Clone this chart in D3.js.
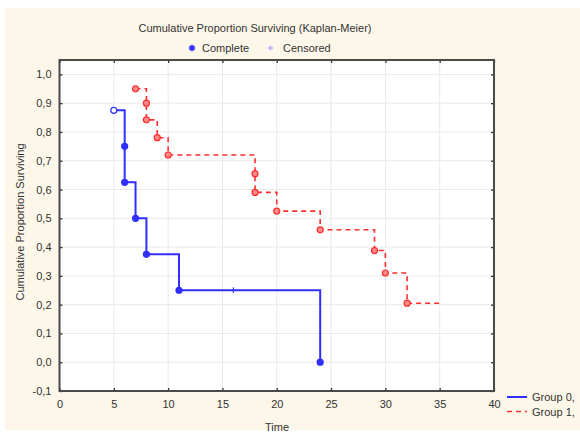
<!DOCTYPE html>
<html lang="en">
<head>
    <meta charset="UTF-8">
    <title>Cumulative Proportion Surviving (Kaplan-Meier)</title>
    <script src="https://cdnjs.cloudflare.com/ajax/libs/d3/7.8.5/d3.min.js"></script>
    <style>
        body {
            margin: 0;
            background: #ffffff;
        }

        svg {
            display: block;
            font-family: "Liberation Sans", Arial, sans-serif;
        }
    </style>
</head>
<body>
    <svg id="chart" width="580" height="432"></svg>

    <script>
        // values
        const groupZeroTimes = [5, 6, 6, 7, 8, 11, 24];
        const groupZeroSurvival = [0.875, 0.75, 0.625, 0.5, 0.375, 0.25, 0];
        const groupZeroCensored = [16];

        const groupOneTimes = [7, 8, 8, 9, 10, 18, 18, 20, 24, 29, 30, 32];
        const groupOneSurvival = [0.95, 0.9, 0.842, 0.78, 0.72, 0.655, 0.59, 0.525, 0.46, 0.388, 0.31, 0.205];
        const groupOneLastTime = 35;

        const xTickValues = [0, 5, 10, 15, 20, 25, 30, 35, 40];
        const yTickValues = [-0.1, 0, 0.1, 0.2, 0.3, 0.4, 0.5, 0.6, 0.7, 0.8, 0.9, 1.0];
        const groupNames = ["Group 0,", "Group 1,"];

        const svg = d3.select("#chart");
        const plotLeft = 59.5, plotRight = 494, plotTop = 60, plotBottom = 391;
        const textColor = "#333";
        const blue = "#2f2fff";
        const red = "#ff2e2e";

        const x = d3.scaleLinear().domain([0, 40]).range([plotLeft, plotRight]);
        const y = d3.scaleLinear().domain([-0.1, 1.05]).range([plotBottom, plotTop]);

        const locale = d3.formatLocale({
            decimal: ",", thousands: ".", grouping: [3], currency: ["", ""], minus: "-"
        });
        const yFormat = locale.format(".1f");

        // cream page background
        svg.append("rect")
            .attr("x", 5).attr("y", 8)
            .attr("width", 575).attr("height", 422)
            .attr("fill", "#fdf7e9");

        svg.append("rect")
            .attr("x", plotLeft).attr("y", plotTop)
            .attr("width", plotRight - plotLeft).attr("height", plotBottom - plotTop)
            .attr("fill", "#fff");

        // grid
        const grid = svg.append("g").attr("stroke", "#e9e9e9").attr("stroke-width", 1);
        grid.selectAll(".gx")
            .data(xTickValues.slice(1, -1))
            .join("line")
            .attr("class", "gx")
            .attr("x1", d => x(d)).attr("x2", d => x(d))
            .attr("y1", plotTop).attr("y2", plotBottom);
        grid.selectAll(".gy")
            .data(yTickValues.slice(1))
            .join("line")
            .attr("class", "gy")
            .attr("x1", plotLeft).attr("x2", plotRight)
            .attr("y1", d => y(d)).attr("y2", d => y(d));

        // step curves
        const stepLine = d3.line()
            .x(d => x(d[0]))
            .y(d => y(d[1]))
            .curve(d3.curveStepAfter);

        const zeroPoints = d3.zip(groupZeroTimes, groupZeroSurvival);
        const onePoints = d3.zip(groupOneTimes, groupOneSurvival);

        svg.append("path")
            .attr("d", stepLine(onePoints.concat([[groupOneLastTime, groupOneSurvival[groupOneSurvival.length - 1]]])))
            .attr("fill", "none")
            .attr("stroke", red)
            .attr("stroke-width", 1.6)
            .attr("stroke-dasharray", "5,4");

        svg.append("path")
            .attr("d", stepLine(zeroPoints))
            .attr("fill", "none")
            .attr("stroke", blue)
            .attr("stroke-width", 2);

        // complete markers
        svg.append("g")
            .selectAll("circle")
            .data(onePoints)
            .join("circle")
            .attr("cx", d => x(d[0]))
            .attr("cy", d => y(d[1]))
            .attr("r", 3)
            .attr("fill", "#ff8a8a")
            .attr("stroke", red)
            .attr("stroke-width", 1.2);

        svg.append("g")
            .selectAll("circle")
            .data(zeroPoints)
            .join("circle")
            .attr("cx", d => x(d[0]))
            .attr("cy", d => y(d[1]))
            .attr("r", 3)
            .attr("fill", (d, i) => i === 0 ? "#fff" : blue)
            .attr("stroke", blue)
            .attr("stroke-width", 1.2);

        // censored marks
        const censorLevel = t => {
            let s = 1;
            zeroPoints.forEach(p => { if (p[0] <= t) s = p[1]; });
            return s;
        };
        svg.append("g")
            .selectAll("path")
            .data(groupZeroCensored)
            .join("path")
            .attr("d", d => {
                const cx = x(d), cy = y(censorLevel(d));
                return `M${cx - 3},${cy}H${cx + 3}M${cx},${cy - 3}V${cy + 3}`;
            })
            .attr("stroke", blue)
            .attr("stroke-width", 1);

        // axes with inward ticks
        const axisStyle = g => {
            g.select(".domain").remove();
            g.selectAll(".tick line").attr("stroke", "#333").attr("stroke-width", 1.3);
            g.selectAll(".tick text").attr("fill", textColor).attr("font-size", 11);
        };

        svg.append("g")
            .attr("transform", `translate(${plotLeft},0)`)
            .call(d3.axisLeft(y).tickValues(yTickValues).tickFormat(yFormat).tickSize(-3).tickPadding(8))
            .call(axisStyle);

        svg.append("g")
            .attr("transform", `translate(${plotRight},0)`)
            .call(d3.axisRight(y).tickValues(yTickValues).tickFormat("").tickSize(-3))
            .call(axisStyle);

        svg.append("g")
            .attr("transform", `translate(0,${plotBottom})`)
            .call(d3.axisBottom(x).tickValues(xTickValues).tickSize(-3).tickPadding(9))
            .call(axisStyle);

        svg.append("g")
            .attr("transform", `translate(0,${plotTop})`)
            .call(d3.axisTop(x).tickValues(xTickValues).tickFormat("").tickSize(-3))
            .call(axisStyle);

        // frame
        svg.append("rect")
            .attr("x", plotLeft).attr("y", plotTop)
            .attr("width", plotRight - plotLeft).attr("height", plotBottom - plotTop)
            .attr("fill", "none")
            .attr("stroke", "#4a4a4a")
            .attr("stroke-width", 2);

        // titles
        svg.append("text")
            .attr("x", 255).attr("y", 32)
            .attr("text-anchor", "middle")
            .attr("font-size", 11)
            .attr("fill", textColor)
            .text("Cumulative Proportion Surviving (Kaplan-Meier)");

        svg.append("text")
            .attr("transform", "translate(24,222) rotate(-90)")
            .attr("text-anchor", "middle")
            .attr("font-size", 11)
            .attr("fill", textColor)
            .text("Cumulative Proportion Surviving");

        svg.append("text")
            .attr("x", 277).attr("y", 431)
            .attr("text-anchor", "middle")
            .attr("font-size", 11)
            .attr("fill", textColor)
            .text("Time");

        // top legend
        const topLegend = svg.append("g").attr("font-size", 11).attr("fill", textColor);
        topLegend.append("circle")
            .attr("cx", 192).attr("cy", 48).attr("r", 3)
            .attr("fill", blue).attr("stroke", "#8a8aff").attr("stroke-width", 1);
        topLegend.append("text").attr("x", 202).attr("y", 52).text("Complete");
        topLegend.append("path")
            .attr("d", "M268,48H273M270.5,45.5V50.5")
            .attr("stroke", "#b8a8ff").attr("stroke-width", 1.3);
        topLegend.append("text").attr("x", 283).attr("y", 52).text("Censored");

        // group legend
        const groupLegend = svg.append("g")
            .selectAll("g")
            .data(groupNames)
            .join("g")
            .attr("transform", (d, i) => `translate(507,${397 + i * 14.5})`);
        groupLegend.append("line")
            .attr("x1", 0).attr("x2", 20)
            .attr("stroke", (d, i) => i === 0 ? blue : red)
            .attr("stroke-width", (d, i) => i === 0 ? 2 : 1.6)
            .attr("stroke-dasharray", (d, i) => i === 0 ? null : "5,4");
        groupLegend.append("text")
            .attr("x", 25).attr("y", 4)
            .attr("font-size", 11)
            .attr("fill", textColor)
            .text(d => d);
    </script>
</body>
</html>
